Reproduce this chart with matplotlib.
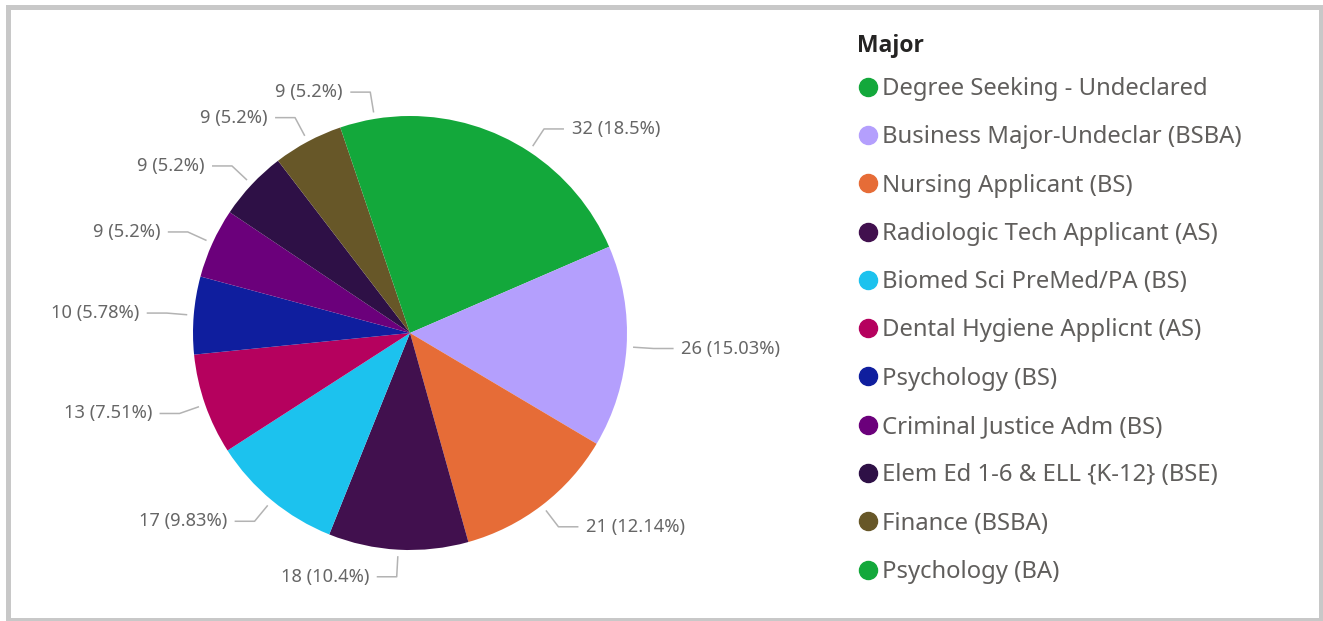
import numpy as np
import matplotlib.pyplot as plt
from matplotlib.lines import Line2D
from matplotlib.patches import Rectangle

plt.rcParams['font.family'] = ['Noto Sans', 'DejaVu Sans']

# Data
majors = ['Degree Seeking - Undeclared', 'Business Major-Undeclar (BSBA)',
          'Nursing Applicant (BS)', 'Radiologic Tech Applicant (AS)',
          'Biomed Sci PreMed/PA (BS)', 'Dental Hygiene Applicnt (AS)',
          'Psychology (BS)', 'Criminal Justice Adm (BS)',
          'Elem Ed 1-6 & ELL {K-12} (BSE)', 'Finance (BSBA)', 'Psychology (BA)']
counts = [32, 26, 21, 18, 17, 13, 10, 9, 9, 9, 9]
pct_labels = ['18.5%', '15.03%', '12.14%', '10.4%', '9.83%', '7.51%',
              '5.78%', '5.2%', '5.2%', '5.2%', '5.2%']
colors = ['#13A83B', '#B49FFD', '#E66C37', '#41104E', '#1CC2EE', '#B5015E',
          '#0F1E9E', '#6B007B', '#2E1046', '#675728', '#13A83B']

W, H = 1323, 621
fig = plt.figure(figsize=(W / 100, H / 100), dpi=100)

# pie axes: centre at (410, 333) px from top-left, radius 217 px
R = 217.0
cx, cy = 410.0, 333.0
ax_w = 820.0
ax = fig.add_axes([0, 0, ax_w / W, 1])
wedges, _ = ax.pie(counts, colors=colors, startangle=90, counterclock=False,
                   wedgeprops=dict(linewidth=0))
ax.set_aspect('auto')
ax.set_xlim(-cx / R, (ax_w - cx) / R)
ax.set_ylim(-(H - cy) / R, cy / R)
ax.axis('off')

# data labels with leader lines
line_col = '#B3B3B3'
text_col = '#666666'
for w, n, p in zip(wedges, counts, pct_labels):
    mid = np.deg2rad((w.theta1 + w.theta2) / 2)
    c, s = np.cos(mid), np.sin(mid)
    side = 1 if c >= 0 else -1
    x0, y0 = 1.03 * c, 1.03 * s
    x1, y1 = 1.125 * c, 1.125 * s
    x2 = x1 + side * 0.092
    ax.plot([x0, x1, x2], [y0, y1, y1], color=line_col, lw=1.1,
            solid_capstyle='butt', clip_on=False)
    ax.text(x2 + side * 0.035, y1, f'{n} ({p})', color=text_col,
            fontsize=13.2, ha='left' if side > 0 else 'right', va='center')

# legend
handles = [Line2D([], [], marker='o', linestyle='', markersize=13,
                  markerfacecolor=col, markeredgecolor=col) for col in colors]
leg = fig.legend(handles, majors, loc='upper left',
                 bbox_to_anchor=(858.5 / W, 1 - 77 / H), frameon=False,
                 fontsize=17.2, handlelength=0.8, handletextpad=0.18,
                 labelspacing=1.017, borderpad=0, borderaxespad=0,
                 labelcolor='#605E5C')
fig.text(857 / W, 1 - 46 / H, 'Major', fontsize=16.5, fontweight='bold',
         family=['Open Sans', 'DejaVu Sans'], color='#252423',
         ha='left', va='center')

# outer frame
fig.patches.append(Rectangle((7.5 / W, 1.5 / H), 1313 / W, 612.5 / H,
                             transform=fig.transFigure, fill=False,
                             edgecolor='#C8C8C8', linewidth=3.6))

fig.savefig('out.png', dpi=100, facecolor='white')
